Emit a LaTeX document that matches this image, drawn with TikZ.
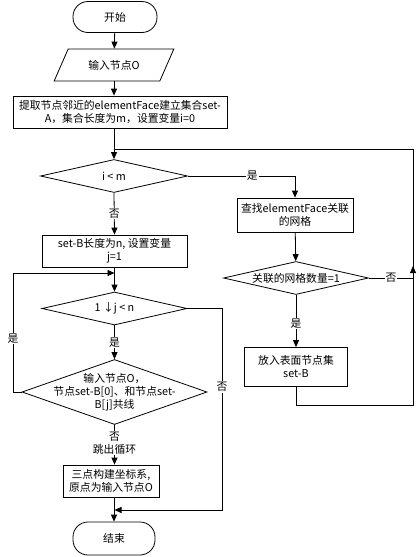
\documentclass[tikz,border=0pt]{standalone}
\usepackage{fontspec}
\setmainfont{Noto Sans CJK SC}
\usetikzlibrary{shapes.geometric,arrows.meta}
\begin{document}
\begin{tikzpicture}[x=1pt,y=-1pt, line width=0.8pt,
 every node/.style={font=\fontsize{10.8}{13}\selectfont},
 box/.style={draw, rectangle, align=center, inner sep=1pt},
 term/.style={draw, rectangle, rounded corners=15pt, minimum width=84pt, minimum height=31pt},
 dia/.style={draw, diamond, inner sep=0pt},
 dtext/.style={align=center, inner sep=0pt},
 lbl/.style={fill=white, inner sep=1pt},
 arr/.style={-{Triangle[length=7pt,width=6pt]}}]
\useasboundingbox (0,0) rectangle (419,557);
\fill[white] (0,0) rectangle (419,557);

\node[term] (start) at (115,17) {开始};
\node[draw, trapezium, trapezium left angle=62, trapezium right angle=118, trapezium stretches=true,
      minimum width=120pt, minimum height=32pt] (in) at (114,65) {输入节点O};
\node[box, minimum width=214pt, minimum height=32pt] (p1) at (120,112)
  {提取节点邻近的elementFace建立集合set-\\A，集合长度为m，设置变量i=0};
\node[dia, minimum width=147pt, minimum height=33pt] (d1) at (114,176) {};
\node[dtext] (d1t) at (d1) {i < m};

\node[box, minimum width=116pt, minimum height=34pt] (r1) at (295,215) {查找elementFace关联\\的网格};
\node[dia, minimum width=145pt, minimum height=33pt] (d2) at (296,278) {};
\node[dtext] (d2t) at (d2) {关联的网格数量=1};
\node[box, minimum width=103pt, minimum height=39pt] (r2) at (296,367) {放入表面节点集\\set-B};

\node[box, minimum width=145pt, minimum height=32pt] (b1) at (114.5,251) {set-B长度为n, 设置变量\\j=1};
\node[dia, minimum width=145pt, minimum height=33pt] (d3) at (114.5,308.5) {};
\node[dtext] (d3t) at (d3) {1 ↓j < n};
\node[dia, minimum width=185pt, minimum height=65pt] (d4) at (114.5,392) {};
\node[dtext] (d4t) at (d4) {输入节点O，\\节点set-B[0]、和节点set-\\B[j]共线};
\node[box, minimum width=96pt, minimum height=32pt] (b2) at (111,481) {三点构建坐标系,\\原点为输入节点O};
\node[term, minimum width=82pt, minimum height=33pt] (end) at (114,538.5) {结束};

% main column
\draw[arr] (start) -- (in);
\draw[arr] (in.south) -- (in.south |- p1.north);
\draw[arr] (p1.south -| d1) -- (d1.north);

% right branch
\draw[arr] (d1.east) -- node[lbl, pos=0.6] {是} (d1.east -| r1) -- (r1.north);
\draw[arr] (r1) -- (d2);
\draw[arr] (d2) -- node[lbl, pos=0.55] {是} (r2);

\coordinate (j1) at (114,149);
\coordinate (rt) at (413,149);
\coordinate (rb) at (413,405);
\coordinate (ra) at (413,266);
\draw (r2.south) -- (r2.south |- rb) -- (rb) -- (rt) -- (j1);
\draw[arr] (rb) -- (ra);
\draw (d2.east) -- node[lbl] {否} (d2.east -| rb);

% left branch
\draw[arr] (d1.south) -- node[lbl] {否} (b1.north);
\draw[arr] (b1) -- (d3);
\draw[arr] (d3) -- node[lbl] {是} (d4);

\coordinate (ll) at (13,273);
\coordinate (lj) at (114.5,273);
\draw[arr] (d4.west) -- (d4.west -| ll) -- node[lbl, pos=0.45] {是} (ll) -- (lj);

\coordinate (nr) at (222,510);
\coordinate (nl) at (114.5,510);
\draw[arr] (d3.east) -- (d3.east -| nr) -- node[lbl, pos=0.39] {否} (nr) -- (nl);

\draw[arr] (d4.south) -- node[lbl, align=center, pos=0.45] {否\\跳出循环} (d4.south |- b2.north);
\draw[arr] (b2.south -| end) -- (end);
\end{tikzpicture}
\end{document}
